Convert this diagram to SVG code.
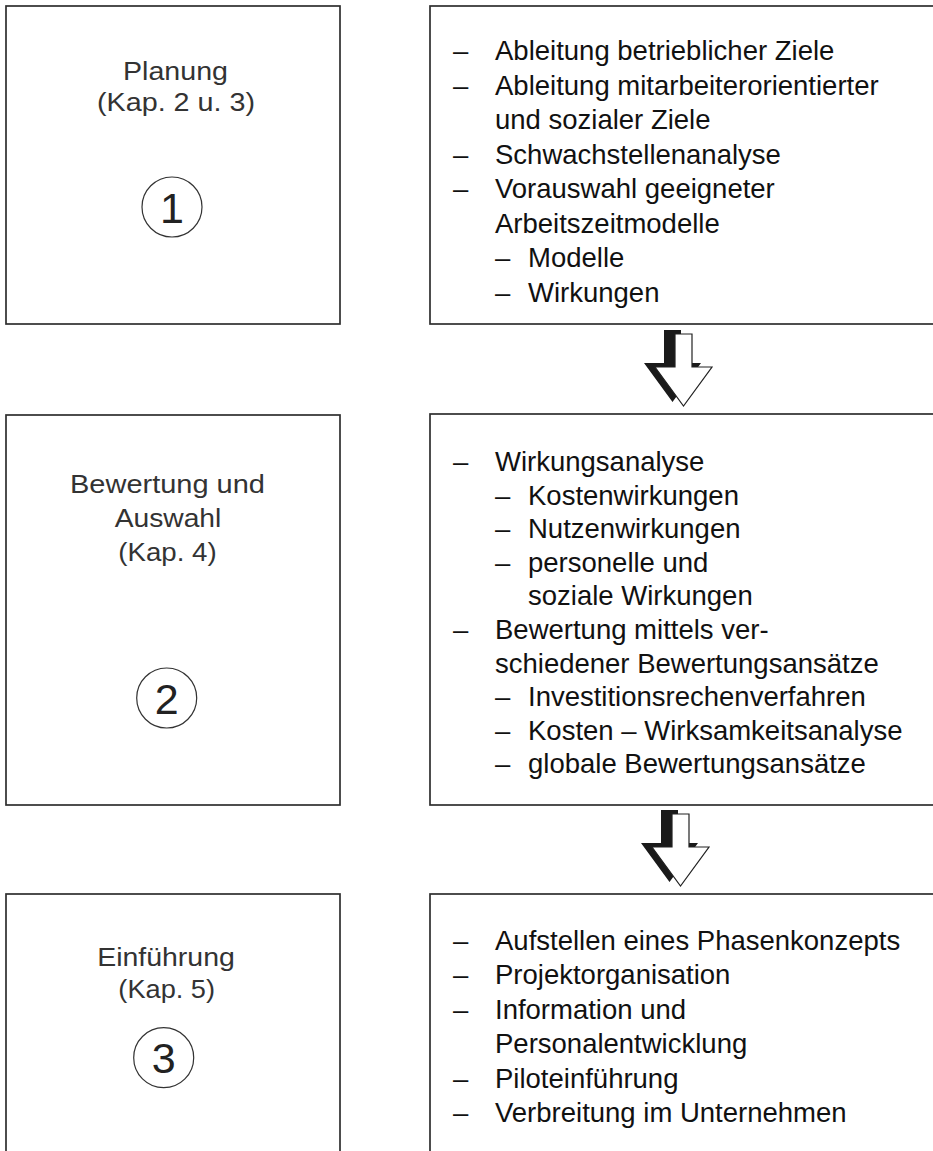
<svg xmlns="http://www.w3.org/2000/svg" width="933" height="1151" viewBox="0 0 933 1151">
<style>
.box{fill:#fff;stroke:#2e2e2e;stroke-width:1.7}
.lt{font-family:'Liberation Sans',Arial,sans-serif;font-size:26.5px;fill:#333;text-anchor:middle}
.num{font-family:'Liberation Sans',Arial,sans-serif;font-size:43px;fill:#222;text-anchor:middle}
.ring{fill:none;stroke:#333;stroke-width:1.2}
.rt{font-family:'Liberation Sans',Arial,sans-serif;font-size:27.5px;fill:#111}
.shadow{fill:#1a1a1a}
.arrow{fill:#fff;stroke:#222;stroke-width:1.2}
</style>
<defs>
<path id="arr" d="M675,334 H692 V367 H712 L683.5,406 L655,367 H675 Z"/>
</defs>
<rect width="933" height="1151" fill="#fff"/>

<g id="phase1">
<rect class="box" x="6" y="6" width="334" height="318"/>
<text class="lt" x="175.5" y="80" textLength="105" lengthAdjust="spacingAndGlyphs">Planung</text>
<text class="lt" x="176" y="111" textLength="158" lengthAdjust="spacingAndGlyphs">(Kap. 2 u. 3)</text>
<circle class="ring" cx="172" cy="207" r="30"/>
<text class="num" x="172" y="222.5">1</text>
</g>

<g id="tasks1">
<rect class="box" x="430" y="6" width="520" height="318"/>
<text class="rt" x="453" y="60">–</text><text class="rt" x="495" y="60">Ableitung betrieblicher Ziele</text>
<text class="rt" x="453" y="94.6">–</text><text class="rt" x="495" y="94.6">Ableitung mitarbeiterorientierter</text>
<text class="rt" x="495" y="129.1">und sozialer Ziele</text>
<text class="rt" x="453" y="163.7">–</text><text class="rt" x="495" y="163.7">Schwachstellenanalyse</text>
<text class="rt" x="453" y="198.3">–</text><text class="rt" x="495" y="198.3">Vorauswahl geeigneter</text>
<text class="rt" x="495" y="232.9">Arbeitszeitmodelle</text>
<text class="rt" x="495" y="267.4">–</text><text class="rt" x="528" y="267.4">Modelle</text>
<text class="rt" x="495" y="302">–</text><text class="rt" x="528" y="302">Wirkungen</text>
</g>

<g id="phase2">
<rect class="box" x="6" y="415" width="334" height="390"/>
<text class="lt" x="167.5" y="493" textLength="195" lengthAdjust="spacingAndGlyphs">Bewertung und</text>
<text class="lt" x="168" y="527" textLength="106.7" lengthAdjust="spacingAndGlyphs">Auswahl</text>
<text class="lt" x="167.5" y="560.5" textLength="98.3" lengthAdjust="spacingAndGlyphs">(Kap. 4)</text>
<circle class="ring" cx="166.7" cy="698" r="30"/>
<text class="num" x="166.7" y="713.5">2</text>
</g>

<g id="tasks2">
<rect class="box" x="430" y="414" width="520" height="391"/>
<text class="rt" x="453" y="471">–</text><text class="rt" x="495" y="471">Wirkungsanalyse</text>
<text class="rt" x="495" y="504.6">–</text><text class="rt" x="528" y="504.6">Kostenwirkungen</text>
<text class="rt" x="495" y="538.2">–</text><text class="rt" x="528" y="538.2">Nutzenwirkungen</text>
<text class="rt" x="495" y="571.8">–</text><text class="rt" x="528" y="571.8">personelle und</text>
<text class="rt" x="528" y="605.4">soziale Wirkungen</text>
<text class="rt" x="453" y="639">–</text><text class="rt" x="495" y="639">Bewertung mittels ver-</text>
<text class="rt" x="495" y="672.6">schiedener Bewertungsansätze</text>
<text class="rt" x="495" y="706.2">–</text><text class="rt" x="528" y="706.2">Investitionsrechenverfahren</text>
<text class="rt" x="495" y="739.8">–</text><text class="rt" x="528" y="739.8">Kosten – Wirksamkeitsanalyse</text>
<text class="rt" x="495" y="773.4">–</text><text class="rt" x="528" y="773.4">globale Bewertungsansätze</text>
</g>

<g id="phase3">
<rect class="box" x="6" y="894" width="334" height="290"/>
<text class="lt" x="166" y="966" textLength="137.7" lengthAdjust="spacingAndGlyphs">Einführung</text>
<text class="lt" x="166.7" y="998" textLength="96.7" lengthAdjust="spacingAndGlyphs">(Kap. 5)</text>
<circle class="ring" cx="163.7" cy="1057.7" r="30"/>
<text class="num" x="163.7" y="1073.2">3</text>
</g>

<g id="tasks3">
<rect class="box" x="430" y="894" width="520" height="290"/>
<text class="rt" x="453" y="950">–</text><text class="rt" x="495" y="950">Aufstellen eines Phasenkonzepts</text>
<text class="rt" x="453" y="984.4">–</text><text class="rt" x="495" y="984.4">Projektorganisation</text>
<text class="rt" x="453" y="1018.8">–</text><text class="rt" x="495" y="1018.8">Information und</text>
<text class="rt" x="495" y="1053.2">Personalentwicklung</text>
<text class="rt" x="453" y="1087.6">–</text><text class="rt" x="495" y="1087.6">Piloteinführung</text>
<text class="rt" x="453" y="1122">–</text><text class="rt" x="495" y="1122">Verbreitung im Unternehmen</text>
</g>

<g id="connectors">
<g id="arrow-1-2">
<use href="#arr" class="shadow" transform="translate(-11,-4)"/>
<use href="#arr" class="arrow"/>
</g>
<g id="arrow-2-3" transform="translate(-3,480)">
<use href="#arr" class="shadow" transform="translate(-11,-4)"/>
<use href="#arr" class="arrow"/>
</g>
</g>
</svg>
